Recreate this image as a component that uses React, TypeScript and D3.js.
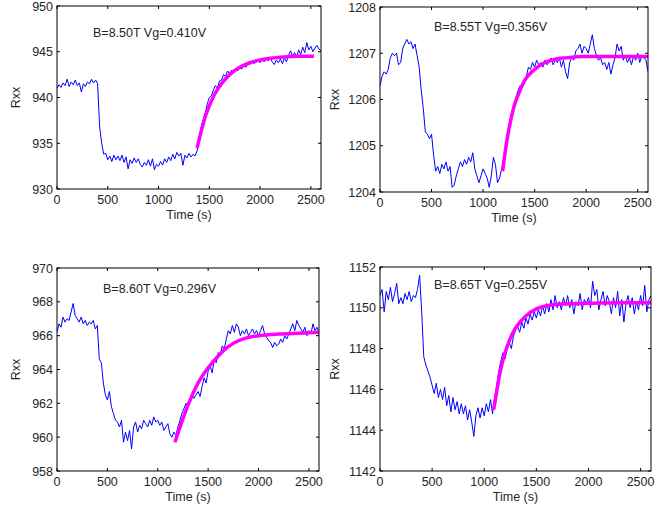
import React from "react";
import * as d3 from "d3";

// sampling step of the traces (s)
const T_STEP = 20;

const xTicks = [0, 500, 1000, 1500, 2000, 2500];

const titles = ["B=8.50T Vg=0.410V", "B=8.55T Vg=0.356V", "B=8.60T Vg=0.296V", "B=8.65T Vg=0.255V"];

const yTicks1 = [930, 935, 940, 945, 950];
const yTicks2 = [1204, 1205, 1206, 1207, 1208];
const yTicks3 = [958, 960, 962, 964, 966, 968, 970];
const yTicks4 = [1142, 1144, 1146, 1148, 1150, 1152];

// Rxx traces, one value every 20 s from 0 to 2600 s
const rxx1 = [
  941.0, 941.4, 941.1, 941.6, 941.3, 942.0, 941.2, 941.7, 941.4, 941.9,
  941.3, 941.6, 940.6, 941.5, 941.2, 941.7, 941.5, 942.0, 941.6, 941.9,
  941.5, 936.8, 935.0, 933.8, 933.9, 933.2, 933.6, 933.0, 933.7, 933.2,
  933.6, 933.1, 933.7, 932.9, 933.5, 932.2, 933.2, 932.8, 933.4, 932.9,
  933.3, 932.7, 932.4, 932.9, 932.6, 933.2, 932.5, 933.3, 932.1, 932.7,
  932.5, 933.0, 932.6, 933.3, 932.9, 933.5, 933.1, 933.8, 933.3, 934.0,
  933.6, 933.9, 932.6, 933.7, 933.4, 933.9, 933.5, 933.8, 933.6, 934.2,
  935.6, 936.8, 937.6, 938.3, 939.3, 940.0, 940.2, 940.8, 941.3, 941.0,
  941.8, 941.9, 942.5, 942.3, 942.9, 942.6, 943.0, 942.7, 943.2, 942.9,
  943.4, 943.1, 943.6, 943.3, 943.8, 943.6, 944.0, 943.7, 943.9, 944.1,
  943.8, 944.2, 943.9, 944.3, 944.0, 944.3, 943.9, 943.6, 944.1, 943.8,
  944.2, 943.7, 944.3, 943.9, 944.6, 945.1, 944.5, 944.9, 944.4, 945.2,
  944.7, 945.5, 944.9, 946.0, 945.2, 945.6, 945.0, 945.4, 945.7, 945.3,
  945.1,
];

const rxx2 = [
  1206.3, 1206.5, 1206.6, 1206.55, 1206.65, 1206.9, 1207.0, 1206.95, 1207.0, 1206.75,
  1206.8, 1207.1, 1207.2, 1207.3, 1207.2, 1207.25, 1207.1, 1207.2, 1206.95, 1206.7,
  1206.2, 1205.8, 1205.3, 1205.25, 1205.15, 1205.25, 1204.8, 1204.45, 1204.55, 1204.4,
  1204.6, 1204.5, 1204.65, 1204.45, 1204.55, 1204.1, 1204.15, 1204.35, 1204.5, 1204.65,
  1204.55, 1204.7, 1204.6, 1204.75, 1204.65, 1204.85, 1204.5, 1204.35, 1204.2, 1204.35,
  1204.5, 1204.4, 1204.3, 1204.1, 1204.35, 1204.75, 1204.6, 1204.2, 1204.3, 1204.5,
  1204.7, 1205.0, 1205.3, 1205.55, 1205.7, 1205.9, 1206.05, 1206.2, 1206.3, 1206.25,
  1206.35, 1206.5, 1206.7, 1206.65, 1206.8, 1206.7, 1206.85, 1206.75, 1206.8, 1206.7,
  1206.85, 1206.75, 1206.8, 1206.9, 1206.75, 1206.85, 1206.8, 1206.9, 1206.7, 1206.85,
  1206.6, 1206.45, 1206.8, 1206.9, 1206.85, 1207.05, 1207.1, 1207.2, 1207.0, 1207.15,
  1207.1, 1207.0, 1207.2, 1207.4, 1207.1, 1206.95, 1206.85, 1206.9, 1206.75, 1206.8,
  1206.65, 1206.8, 1206.55, 1206.75, 1206.9, 1207.2, 1207.05, 1207.15, 1206.85, 1206.95,
  1206.8, 1206.9, 1206.75, 1206.95, 1206.85, 1207.0, 1206.8, 1206.95, 1206.9, 1206.85,
  1206.6,
];

const rxx3 = [
  966.2, 966.7, 966.5, 967.1, 966.8, 967.0, 966.9, 967.4, 967.9, 967.2,
  967.0, 966.8, 967.1, 966.7, 966.9, 966.6, 966.8, 966.7, 966.9, 966.4,
  966.6, 964.6, 964.4, 963.2, 962.5, 962.2, 962.7, 961.8, 961.4, 961.0,
  960.9, 960.6, 961.0, 959.7, 960.3, 959.8, 960.4, 959.3, 960.6, 960.9,
  960.3, 960.7, 960.5, 961.0, 960.8, 960.6, 961.0, 960.7, 961.2, 960.9,
  961.0, 960.7, 960.9, 960.4, 960.6, 960.8, 960.2, 960.0, 960.3, 960.1,
  960.6, 961.0, 961.4, 961.7, 962.0, 961.8, 962.2, 962.5, 962.3, 962.5,
  962.7, 962.4, 963.0, 963.5, 963.2, 963.9, 964.2, 963.8, 964.6, 964.4,
  965.0, 964.8, 965.4, 965.2, 965.8, 966.3, 966.1, 966.6, 966.2, 966.7,
  966.5, 966.0, 966.3, 966.1, 966.4, 966.0, 966.2, 966.4, 966.1, 966.3,
  966.0, 966.3, 966.6, 966.1, 965.9, 965.7, 965.6, 965.3, 965.6, 965.4,
  965.5, 965.8, 965.6, 966.0, 965.8, 966.1, 966.4, 966.7, 966.3, 966.9,
  966.6, 966.4, 966.2, 966.5, 966.0, 966.3, 966.1, 966.7, 966.3, 966.5,
  966.1,
];

const rxx4 = [
  1150.6, 1150.9, 1149.8, 1150.8, 1150.4, 1151.0, 1150.3, 1150.7, 1151.2, 1150.2,
  1150.5, 1150.2, 1150.7, 1150.4, 1150.8, 1150.3, 1150.6, 1150.5, 1150.9, 1151.6,
  1149.8, 1147.6, 1147.2, 1146.9, 1146.6, 1146.2, 1145.8, 1146.3, 1145.6, 1146.0,
  1145.5, 1146.1, 1145.2, 1145.7, 1144.9, 1145.6, 1145.0, 1145.4, 1144.8, 1145.3,
  1144.8, 1145.2, 1144.5, 1145.0, 1144.4, 1143.7, 1144.7, 1145.1, 1144.6, 1145.1,
  1144.7, 1145.3, 1144.9, 1145.5, 1144.8, 1145.6, 1146.2, 1146.9, 1147.4, 1147.8,
  1147.5, 1148.0, 1148.3, 1148.0, 1148.6, 1148.9, 1149.1, 1148.8, 1149.3, 1149.0,
  1149.5, 1149.2, 1149.7, 1149.4, 1149.8, 1149.5, 1149.9, 1149.6, 1150.1, 1149.7,
  1150.2, 1149.8, 1150.4, 1149.9, 1150.6, 1150.0, 1150.3, 1149.9, 1150.5, 1150.1,
  1150.6, 1150.0, 1150.4, 1149.7, 1150.3, 1150.1, 1150.7, 1149.9, 1150.4, 1150.2,
  1150.5, 1150.0, 1151.3, 1150.6, 1150.9, 1149.9, 1150.4, 1150.8, 1150.1, 1150.6,
  1150.3, 1149.7, 1150.5, 1150.0, 1150.8, 1149.6, 1150.4, 1149.3, 1150.2, 1150.6,
  1150.0, 1150.5, 1149.7, 1150.3, 1149.9, 1150.6, 1150.1, 1151.1, 1149.8, 1150.4,
  1150.6,
];

// fitted recovery curves [time, Rxx]
const fit1: [number, number][] = [
  [1380, 934.5], [1420, 936.3], [1460, 937.9], [1500, 939.1], [1550, 940.3],
  [1600, 941.2], [1700, 942.5], [1800, 943.3], [1900, 943.8], [2000, 944.1],
  [2200, 944.4], [2400, 944.5], [2530, 944.5],
];
const fit2: [number, number][] = [
  [1190, 1204.45], [1220, 1204.95], [1250, 1205.35], [1300, 1205.85], [1350, 1206.15],
  [1400, 1206.4], [1500, 1206.65], [1600, 1206.8], [1700, 1206.87], [1800, 1206.9],
  [2000, 1206.93], [2300, 1206.93], [2600, 1206.93],
];
const fit3: [number, number][] = [
  [1170, 959.7], [1250, 961.1], [1300, 961.9], [1400, 963.2], [1500, 964.1],
  [1600, 964.8], [1700, 965.35], [1800, 965.7], [1900, 965.9], [2000, 966.0],
  [2200, 966.1], [2400, 966.15], [2600, 966.2],
];
const fit4: [number, number][] = [
  [1090, 1145.0], [1120, 1145.9], [1150, 1146.8], [1200, 1147.8], [1250, 1148.5],
  [1300, 1149.0], [1400, 1149.6], [1500, 1149.95], [1600, 1150.1], [1800, 1150.2],
  [2000, 1150.22], [2300, 1150.25], [2600, 1150.25],
];

const FONT = "'Liberation Sans', Arial, Helvetica, sans-serif";

const panels = [
  { box: [57, 6, 321, 189], yDomain: [930, 950], yTicks: yTicks1, trace: rxx1, fit: fit1, title: titles[0], titlePos: [93, 37], ylabX: 20 },
  { box: [380, 7, 648, 192], yDomain: [1204, 1208], yTicks: yTicks2, trace: rxx2, fit: fit2, title: titles[1], titlePos: [434, 31], ylabX: 339 },
  { box: [57, 268, 319, 471], yDomain: [958, 970], yTicks: yTicks3, trace: rxx3, fit: fit3, title: titles[2], titlePos: [103, 293], ylabX: 20 },
  { box: [380, 267, 651, 471], yDomain: [1142, 1152], yTicks: yTicks4, trace: rxx4, fit: fit4, title: titles[3], titlePos: [434, 289], ylabX: 339 },
];

function Panel({ p, idx }: { p: (typeof panels)[number]; idx: number }) {
  const [l, t, r, b] = p.box;
  const x = d3.scaleLinear().domain([0, 2600]).range([l, r]);
  const y = d3.scaleLinear().domain(p.yDomain).range([b, t]);
  const tl = 3;

  const traceLine = d3
    .line<number>()
    .x((_, i) => x(i * T_STEP))
    .y((d) => y(d));
  const fitLine = d3
    .line<[number, number]>()
    .x((d) => x(d[0]))
    .y((d) => y(d[1]))
    .curve(d3.curveMonotoneX);

  const clipId = `clip${idx}`;
  return (
    <g>
      <defs>
        <clipPath id={clipId}>
          <rect x={l} y={t} width={r - l} height={b - t} />
        </clipPath>
      </defs>
      <rect x={l} y={t} width={r - l} height={b - t} fill="#fff" />
      <g clipPath={`url(#${clipId})`}>
        <path d={traceLine(p.trace) || ""} fill="none" stroke="#0000ff" strokeWidth={1} />
        <path d={fitLine(p.fit) || ""} fill="none" stroke="#ff00ff" strokeWidth={3.5} />
      </g>
      <rect x={l} y={t} width={r - l} height={b - t} fill="none" stroke="#000" strokeWidth={1} />
      {xTicks.map((v) => (
        <g key={"x" + v}>
          <line x1={x(v)} x2={x(v)} y1={b} y2={b - tl} stroke="#000" />
          <line x1={x(v)} x2={x(v)} y1={t} y2={t + tl} stroke="#000" />
          <text x={x(v)} y={b + 15} textAnchor="middle" fontSize={12.5} fill="#262626">
            {v}
          </text>
        </g>
      ))}
      {p.yTicks.map((v) => (
        <g key={"y" + v}>
          <line x1={l} x2={l + tl} y1={y(v)} y2={y(v)} stroke="#000" />
          <line x1={r} x2={r - tl} y1={y(v)} y2={y(v)} stroke="#000" />
          <text x={l - 4} y={y(v) + 4.5} textAnchor="end" fontSize={12.5} fill="#262626">
            {v}
          </text>
        </g>
      ))}
      <text x={p.titlePos[0]} y={p.titlePos[1]} fontSize={12.5} fill="#262626">
        {p.title}
      </text>
      <text x={(l + r) / 2} y={b + 30} textAnchor="middle" fontSize={12.5} fill="#262626">
        Time (s)
      </text>
      <text
        transform={`translate(${p.ylabX},${(t + b) / 2}) rotate(-90)`}
        textAnchor="middle"
        fontSize={12.5}
        fill="#262626"
      >
        Rxx
      </text>
    </g>
  );
}

export default function App() {
  return (
    <svg width={668} height={506} style={{ position: "absolute", left: 0, top: 0, fontFamily: FONT }}>
      <rect width={668} height={506} fill="#fff" />
      {panels.map((p, i) => (
        <Panel key={i} p={p} idx={i} />
      ))}
    </svg>
  );
}
